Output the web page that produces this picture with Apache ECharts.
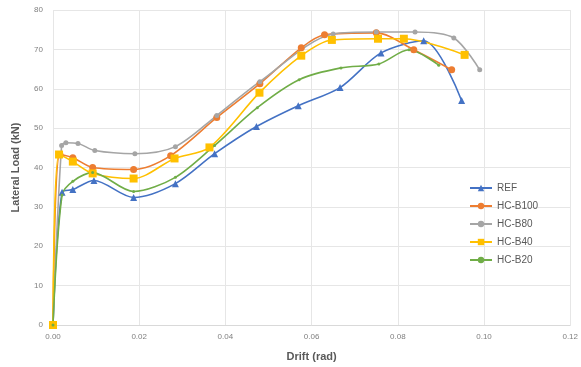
<!DOCTYPE html>
<html>
<head>
<meta charset="utf-8">
<script src="https://cdn.jsdelivr.net/npm/echarts@6/dist/echarts.min.js"></script>
<style>
  html, body { margin: 0; padding: 0; background: #fff; }
  #main { width: 581px; height: 367px; }
</style>
</head>
<body>
<div id="main"></div>
<script>
// drift (rad) and lateral load (kN)
const refDrift = [0, 0.0021, 0.0046, 0.0095, 0.0187, 0.0284, 0.0375, 0.0472, 0.0569, 0.0666, 0.0761, 0.0860, 0.0948];
const refLoad = [0, 33.7, 34.4, 36.7, 32.4, 35.9, 43.5, 50.4, 55.7, 60.3, 69.1, 72.2, 57.0];

const b100Drift = [0, 0.0016, 0.0046, 0.0092, 0.0187, 0.0273, 0.0380, 0.0480, 0.0576, 0.0630, 0.0750, 0.0837, 0.0925];
const b100Load = [0, 43.3, 42.5, 40.0, 39.5, 43.0, 52.7, 61.3, 70.4, 73.7, 74.2, 69.9, 64.8];

const b80Drift = [0, 0.0020, 0.0030, 0.0058, 0.0097, 0.0190, 0.0284, 0.0380, 0.0480, 0.0650, 0.0750, 0.0840, 0.0930, 0.0990];
const b80Load = [0, 45.6, 46.3, 46.1, 44.3, 43.5, 45.3, 53.2, 61.8, 73.9, 74.4, 74.4, 72.9, 64.8];

const b40Drift = [0, 0.0014, 0.0046, 0.0092, 0.0187, 0.0282, 0.0363, 0.0479, 0.0576, 0.0647, 0.0754, 0.0814, 0.0955];
const b40Load = [0, 43.3, 41.5, 38.5, 37.2, 42.3, 45.1, 59.0, 68.4, 72.4, 72.7, 72.7, 68.6];

const b20Drift = [0, 0.0021, 0.0046, 0.0092, 0.0187, 0.0284, 0.0375, 0.0474, 0.0571, 0.0668, 0.0756, 0.0826, 0.0895];
const b20Load = [0, 33.0, 36.5, 38.7, 33.9, 37.5, 45.6, 55.2, 62.3, 65.3, 66.3, 69.9, 66.0];

const xTicks = { min: 0, max: 0.12, step: 0.02 };
const yTicks = { min: 0, max: 80, step: 10 };

function pairs(xs, ys) {
  return xs.map((x, i) => [x, ys[i]]);
}

const chart = echarts.init(document.getElementById('main'), null, { renderer: 'canvas' });

const labelStyle = { color: '#7f7f7f', fontSize: 8, fontFamily: 'Liberation Sans' };

function line(name, color, symbol, size, xs, ys) {
  return {
    name: name,
    type: 'line',
    smooth: 0.3,
    symbol: symbol,
    symbolSize: size,
    itemStyle: { color: color },
    lineStyle: { color: color, width: 1.6 },
    data: pairs(xs, ys)
  };
}

var option = {
  animation: false,
  grid: { left: 53, right: 9, top: 10, bottom: 41 },
  legend: {
    orient: 'vertical',
    left: 464,
    top: 178,
    itemGap: 8,
    itemWidth: 22,
    itemHeight: 8,
    textStyle: { color: '#595959', fontSize: 10, fontFamily: 'Liberation Sans' },
    data: ['REF', 'HC-B100', 'HC-B80', 'HC-B40', 'HC-B20']
  },
  xAxis: {
    type: 'value',
    min: xTicks.min,
    max: xTicks.max,
    interval: xTicks.step,
    name: 'Drift (rad)',
    nameLocation: 'middle',
    nameGap: 26,
    nameTextStyle: { color: '#595959', fontSize: 11, fontWeight: 'bold', fontFamily: 'Liberation Sans' },
    axisLine: { show: true, lineStyle: { color: '#d9d9d9' } },
    axisTick: { show: false },
    axisLabel: Object.assign({ formatter: v => v.toFixed(2), margin: 8 }, labelStyle),
    splitLine: { show: true, lineStyle: { color: '#e6e6e6' } }
  },
  yAxis: {
    type: 'value',
    min: yTicks.min,
    max: yTicks.max,
    interval: yTicks.step,
    name: 'Lateral Load (kN)',
    nameLocation: 'middle',
    nameGap: 32,
    nameTextStyle: { color: '#595959', fontSize: 11, fontWeight: 'bold', fontFamily: 'Liberation Sans' },
    axisLine: { show: false },
    axisTick: { show: false },
    axisLabel: Object.assign({ margin: 10 }, labelStyle),
    splitLine: { show: true, lineStyle: { color: '#e6e6e6' } }
  },
  series: [
    line('REF', '#4472c4', 'triangle', 7, refDrift, refLoad),
    line('HC-B100', '#ed7d31', 'circle', 7, b100Drift, b100Load),
    line('HC-B80', '#a5a5a5', 'circle', 5, b80Drift, b80Load),
    line('HC-B40', '#ffc000', 'rect', 8, b40Drift, b40Load),
    line('HC-B20', '#70ad47', 'circle', 3, b20Drift, b20Load)
  ]
};

chart.setOption(option);
</script>
</body>
</html>
